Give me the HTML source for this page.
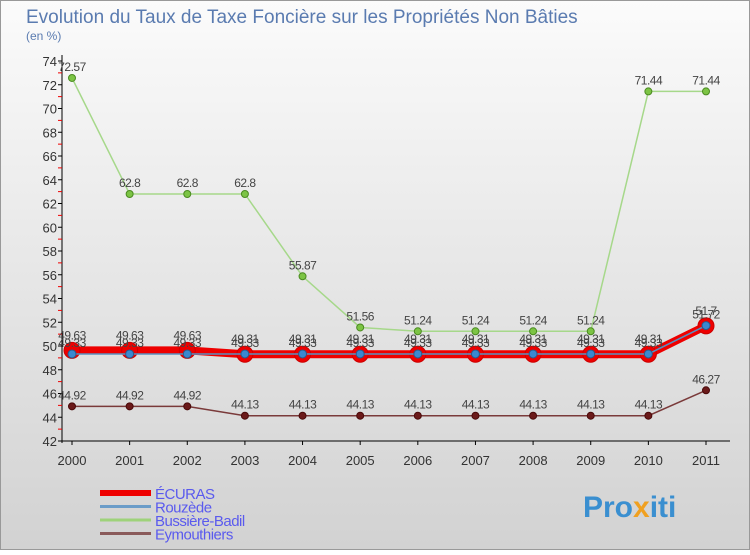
<!DOCTYPE html>
<html><head><meta charset="utf-8"><style>
body{margin:0;width:750px;height:550px;overflow:hidden;font-family:"Liberation Sans",sans-serif}
svg text{font-family:"Liberation Sans",sans-serif}
</style></head><body>
<svg id="c" width="750" height="550" xmlns="http://www.w3.org/2000/svg">
<defs><linearGradient id="bg" x1="0" y1="0" x2="0" y2="1"><stop offset="0" stop-color="#fbfbfb"/><stop offset="1" stop-color="#d2d2d2"/></linearGradient></defs>
<rect x="0.5" y="0.5" width="749" height="549" fill="url(#bg)" stroke="#999"/>
<text x="26" y="23" font-size="19" fill="#5a7bb0">Evolution du Taux de Taxe Foncière sur les Propriétés Non Bâties</text>
<text x="26" y="40" font-size="12" fill="#5a7bb0">(en %)</text>
<g id="axes"></g><g id="series"></g><g id="legend"></g>
<text x="583" y="517" font-size="30" font-weight="bold" fill="#3a8fd0">Pro<tspan fill="#f0a020">x</tspan>iti</text>
</svg>
<script>
const years=[2000,2001,2002,2003,2004,2005,2006,2007,2008,2009,2010,2011];
const ecuras=[49.63,49.63,49.63,49.31,49.31,49.31,49.31,49.31,49.31,49.31,49.31,51.7];
const rouzede=[49.33,49.33,49.33,49.33,49.33,49.33,49.33,49.33,49.33,49.33,49.33,51.72];
const bussiere=[72.57,62.8,62.8,62.8,55.87,51.56,51.24,51.24,51.24,51.24,71.44,71.44];
const eymou=[44.92,44.92,44.92,44.13,44.13,44.13,44.13,44.13,44.13,44.13,44.13,46.27];
const yTicks=[42,44,46,48,50,52,54,56,58,60,62,64,66,68,70,72,74];
const NS="http://www.w3.org/2000/svg";
const X=i=>72+i*(706-72)/(years.length-1);
const Y=v=>441-(v-42)*11.875;
function mk(t,a,p,name){const e=document.createElementNS(NS,t);for(const k in a)e.setAttribute(k,a[k]);p.appendChild(e);


return e;}
const ax=document.getElementById('axes');
mk('line',{x1:62,y1:55,x2:62,y2:443,stroke:'#000'},ax,'y-axis');
mk('line',{x1:62,y1:441,x2:730,y2:441,stroke:'#000'},ax,'x-axis');
yTicks.forEach(v=>{mk('line',{x1:58,y1:Y(v),x2:62,y2:Y(v),stroke:'#000'},ax,'y-tick');
const t=mk('text',{x:57,y:Y(v)+5,'text-anchor':'end','font-size':13,fill:'#333'},ax,'y-tick-label');t.textContent=v;
if(v<74)mk('line',{x1:58,y1:Y(v+1),x2:62,y2:Y(v+1),stroke:'#e00'},ax,'y-minor-tick');});
years.forEach((y,i)=>{mk('line',{x1:X(i),y1:441,x2:X(i),y2:445,stroke:'#000'},ax,'x-tick');
const t=mk('text',{x:X(i),y:465,'text-anchor':'middle','font-size':13,fill:'#333'},ax,'x-tick-label');t.textContent=y;});
const sg=document.getElementById('series');
function series(d,color,w,r,fill,stroke,name,lab){
mk('polyline',{points:d.map((v,i)=>X(i)+','+Y(v)).join(' '),fill:'none',stroke:color,'stroke-width':w},sg,name+'-line');
d.forEach((v,i)=>{mk('circle',{cx:X(i),cy:Y(v),r:r,fill:fill,stroke:stroke,'stroke-width':1},sg,name+'-point');
const t=mk('text',{x:X(i),y:Y(v)-7+lab,'text-anchor':'middle','font-size':12,fill:'#444','letter-spacing':'-0.5'},sg,name+'-value-label');t.textContent=v;});}
series(bussiere,'#a6d88a',1.5,3.5,'#7cc444','#4a8a20','bussiere-badil',0);
series(eymou,'#7a3a3a',1.5,3.5,'#6b1a1a','#4a0a0a','eymouthiers',0);
series(ecuras,'#ee0000',8,8,'#ee0000','#cc0000','ecuras',-4);
series(rouzede,'#5a8fc0',1.5,4,'#3a88d0','#2a5a8a','rouzede',0);
const lg=document.getElementById('legend');
const L=[['ÉCURAS','#ee0000',6],['Rouzède','#6a9cc8',3],['Bussière-Badil','#9ed27a',3],['Eymouthiers','#8a5a5a',3]];
L.forEach((l,i)=>{const y=493+i*13.5;mk('line',{x1:100,y1:y,x2:151,y2:y,stroke:l[1],'stroke-width':l[2]},lg,'legend-swatch');
const t=mk('text',{x:155,y:y+6,'font-size':15,fill:'#5a5aee','letter-spacing':'-0.5'},lg,'legend-entry');t.textContent=l[0];});
</script>
</body></html>
